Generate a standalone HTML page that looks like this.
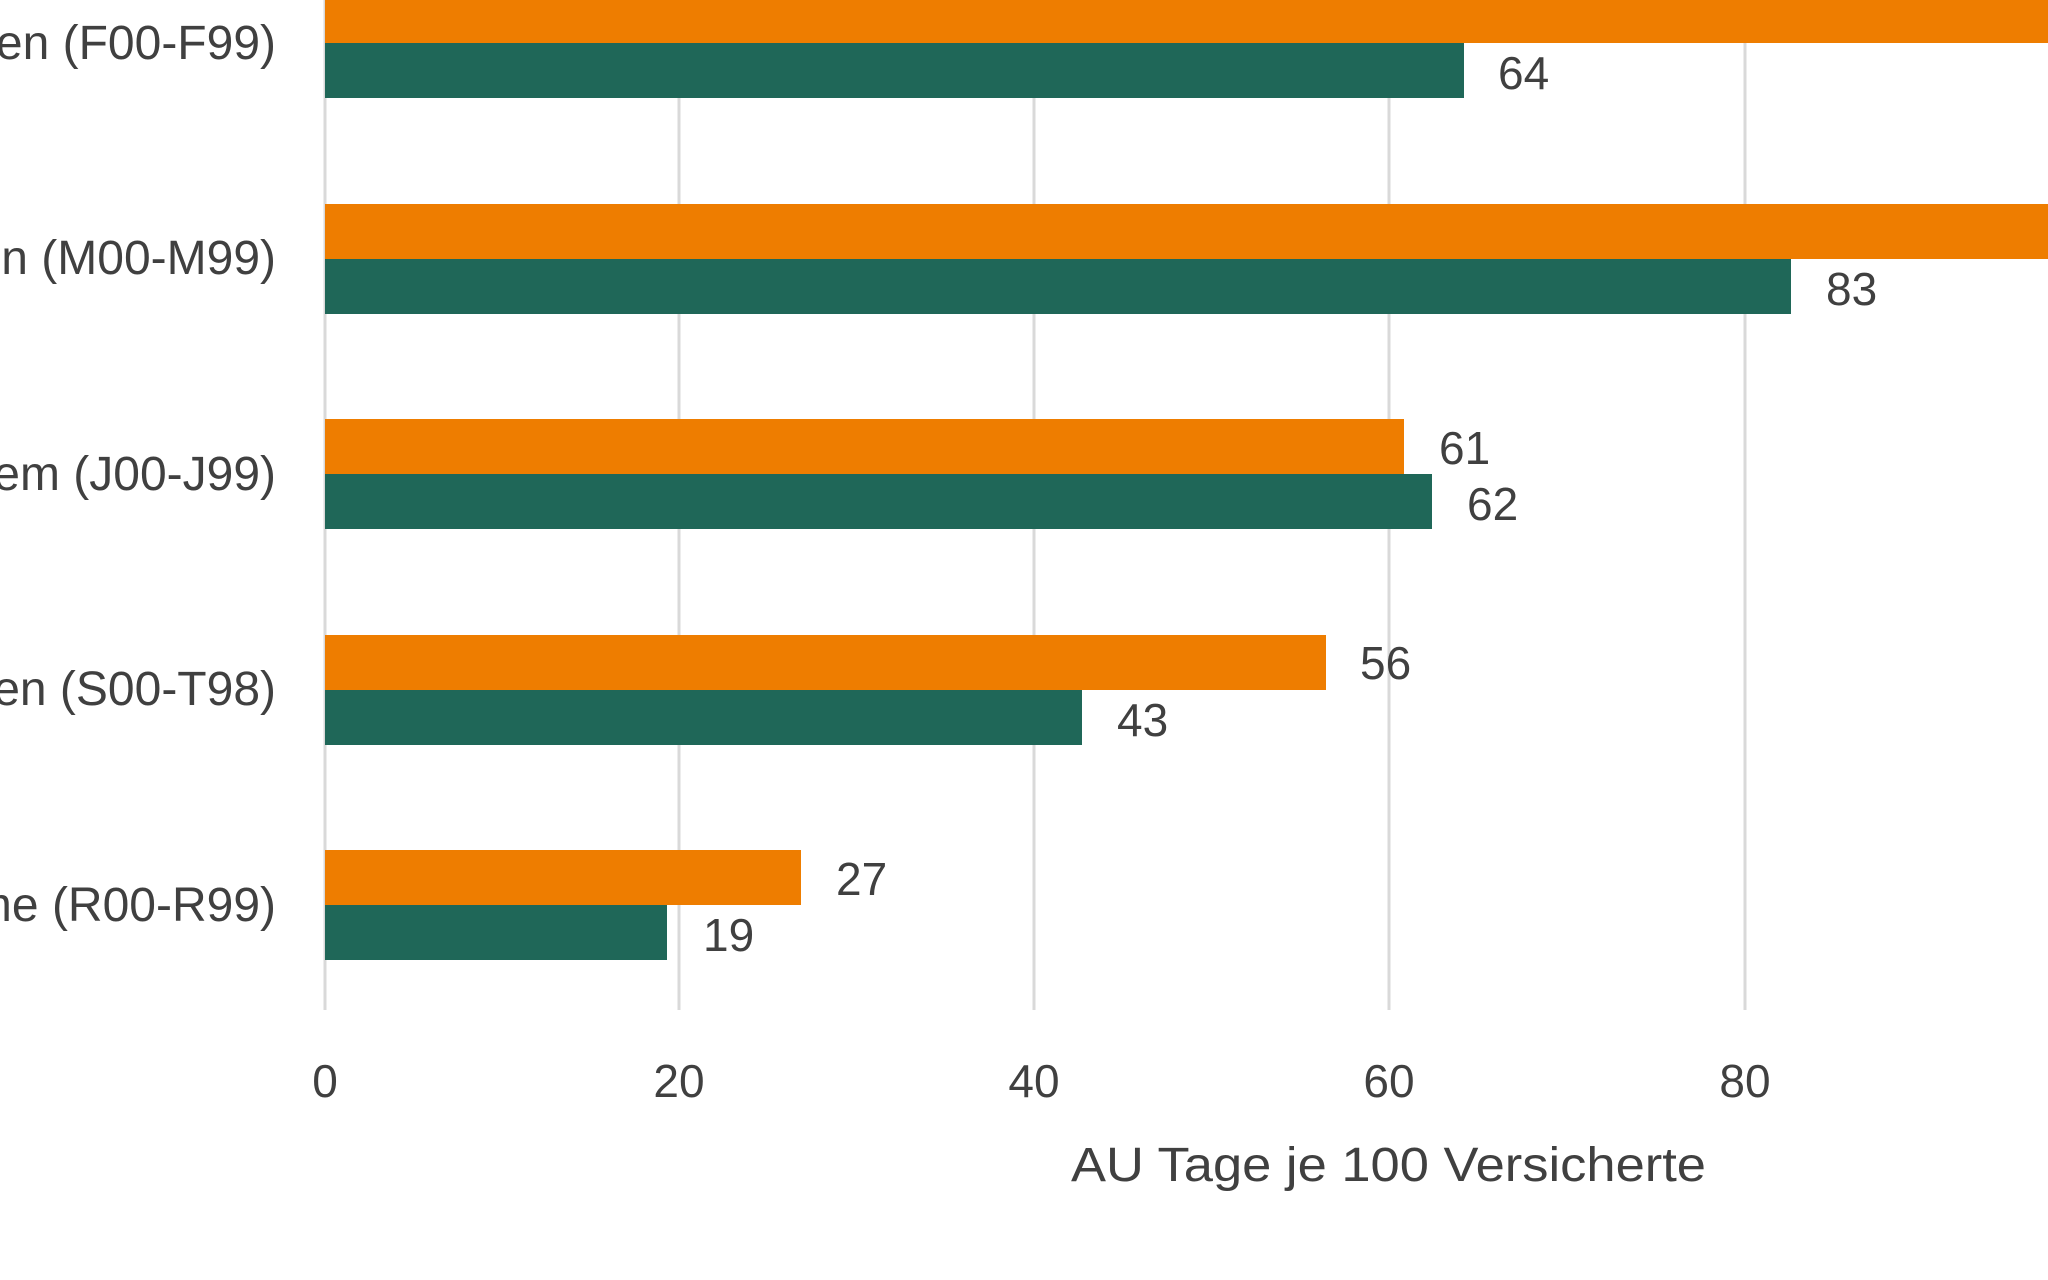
<!DOCTYPE html>
<html><head><meta charset="utf-8"><style>
html,body{margin:0;padding:0;background:#fff;}
svg{display:block;}
text{font-family:"Liberation Sans",sans-serif;fill:#404040;}
</style></head><body>
<svg width="2048" height="1280" viewBox="0 0 2048 1280" xmlns="http://www.w3.org/2000/svg">
<rect width="2048" height="1280" fill="#fff"/>
<g stroke="#d9d9d9" stroke-width="3">
<line x1="679" y1="0" x2="679" y2="1010"/>
<line x1="1034" y1="0" x2="1034" y2="1010"/>
<line x1="1389" y1="0" x2="1389" y2="1010"/>
<line x1="1745" y1="0" x2="1745" y2="1010"/>
<line x1="325" y1="0" x2="325" y2="1010"/>
</g>
<g fill="#EE7D00">
<rect x="325" y="-13" width="1723" height="56"/>
<rect x="325" y="204" width="1723" height="55"/>
<rect x="325" y="419" width="1079" height="55"/>
<rect x="325" y="635" width="1001" height="55"/>
<rect x="325" y="850" width="476" height="55"/>
</g>
<g fill="#1F6758">
<rect x="325" y="43" width="1139" height="55"/>
<rect x="325" y="259" width="1466" height="55"/>
<rect x="325" y="474" width="1107" height="55"/>
<rect x="325" y="690" width="757" height="55"/>
<rect x="325" y="905" width="342" height="55"/>
</g>
<g font-size="48" text-anchor="end">
<text x="276" y="59">gen (F00-F99)</text>
<text x="276" y="274">n (M00-M99)</text>
<text x="276" y="490">tem (J00-J99)</text>
<text x="276" y="705">gen (S00-T98)</text>
<text x="276" y="921">me (R00-R99)</text>
</g>
<g font-size="46">
<text x="1498" y="89">64</text>
<text x="1826" y="305">83</text>
<text x="1439" y="464">61</text>
<text x="1467" y="520">62</text>
<text x="1360" y="679">56</text>
<text x="1117" y="736">43</text>
<text x="836" y="895">27</text>
<text x="703" y="951">19</text>
</g>
<g font-size="46" text-anchor="middle">
<text x="325" y="1097">0</text>
<text x="679" y="1097">20</text>
<text x="1034" y="1097">40</text>
<text x="1389" y="1097">60</text>
<text x="1745" y="1097">80</text>
</g>
<text x="1071" y="1181" font-size="48" textLength="635" lengthAdjust="spacingAndGlyphs">AU Tage je 100 Versicherte</text>
</svg>
</body></html>
